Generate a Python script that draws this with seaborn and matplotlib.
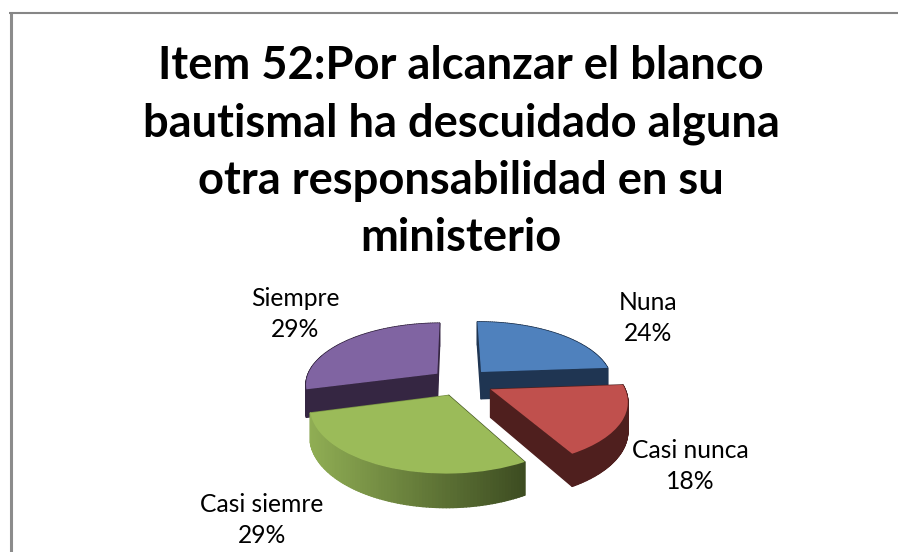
import numpy as np
import seaborn as sns
import matplotlib.pyplot as plt
from matplotlib.collections import PolyCollection
from matplotlib.transforms import Transform

# Chart data
title = 'Item 52:Por alcanzar el blanco\nbautismal ha descuidado alguna\notra responsabilidad en su\nministerio'
categories = ['Nuna', 'Casi nunca', 'Casi siemre', 'Siempre']
values = [24, 18, 29, 29]

# Colours
top_colors = ['#4F81BD', '#C0504D', '#9BBB59', '#8064A2']
side_left = ['#1F3552', '#4F1F1E', '#90AE54', '#352642']
side_right = ['#1F3552', '#4F1F1E', '#3B4A20', '#352642']

# Pixel layout of the tilted pie
center_x, center_y = 461, 382
width_px, height_px = 132, 61
tilt = 0.159
depth_px = 27.5
explode = [0.23, 0.25, 0.23, 0.23]
label_pos = [(648, 318), (690, 466), (262, 520), (295, 314)]


class TiltTransform(Transform):
    # Turns the flat pie circle into a tilted disc, near side bigger
    input_dims = 2
    output_dims = 2
    has_inverse = False

    def transform_non_affine(self, values):
        values = np.asarray(values, dtype=float)
        scale = 1 / (1 + tilt * values[:, 1])
        return np.column_stack((center_x + values[:, 0] * scale * width_px,
                                center_y - values[:, 1] * scale * height_px))


sns.set_theme(style='white')
plt.rcParams['font.family'] = ['Lato', 'DejaVu Sans']

fig = plt.figure(figsize=(8.98, 5.52), dpi=100)
ax = fig.add_axes([0, 0, 1, 1])

wedges, _ = ax.pie(values, colors=sns.color_palette(top_colors), startangle=90.5,
                   counterclock=False, explode=explode,
                   wedgeprops={'linewidth': 0})
ax.set_aspect('auto')
ax.set_xlim(0, 898)
ax.set_ylim(552, 0)
ax.set_axis_off()

tilted = TiltTransform()
draw_order = {0: 1, 3: 2, 1: 3, 2: 4}

for i, wedge in enumerate(wedges):
    # Outline of the slice, apex to arc and back
    angles = np.radians(np.linspace(wedge.theta1, wedge.theta2, 90))
    cx, cy = wedge.center
    outline = np.vstack(([[cx, cy]],
                         np.column_stack((cx + wedge.r * np.cos(angles),
                                          cy + wedge.r * np.sin(angles))),
                         [[cx, cy]]))
    top = tilted.transform(outline)
    drop = depth_px / (1 + tilt * outline[:, 1])
    bottom = top + np.column_stack((np.zeros(len(top)), drop))

    # Side wall as small quads, back ones first
    quads = np.stack((top[:-1], top[1:], bottom[1:], bottom[:-1]), axis=1)
    order = np.argsort(-(outline[:-1, 1] + outline[1:, 1]))
    shades = sns.blend_palette([side_left[i], side_right[i]], 256)
    x_pos = np.clip((quads[:, :, 0].mean(axis=1) - 310) / (528 - 310), 0, 1)
    quad_colors = [shades[int(v * 255)] for v in x_pos[order]]
    ax.add_collection(PolyCollection(quads[order], facecolors=quad_colors,
                                     edgecolors=quad_colors, linewidths=1.0,
                                     zorder=draw_order[i] * 2))

    wedge.set_transform(tilted + ax.transData)
    wedge.set_zorder(draw_order[i] * 2 + 1)

# Slice labels
for name, value, (x, y) in zip(categories, values, label_pos):
    ax.text(x, y, f'{name}\n{value}%', ha='center', va='center', fontsize=17.7,
            color='black', linespacing=1.42, zorder=20)

# Title
ax.text(461, 152, title, ha='center', va='center', fontsize=32.6,
        fontweight='bold', color='black', linespacing=1.45, zorder=20)

# Chart frame, top and left edges only
ax.plot([10.5, 10.5], [12, 552], color='#8C8C8C', linewidth=2.2,
        solid_capstyle='butt', zorder=21)
ax.plot([9, 898], [13, 13], color='#868686', linewidth=1.5,
        solid_capstyle='butt', zorder=21)

fig.savefig('out.png', dpi=100)
